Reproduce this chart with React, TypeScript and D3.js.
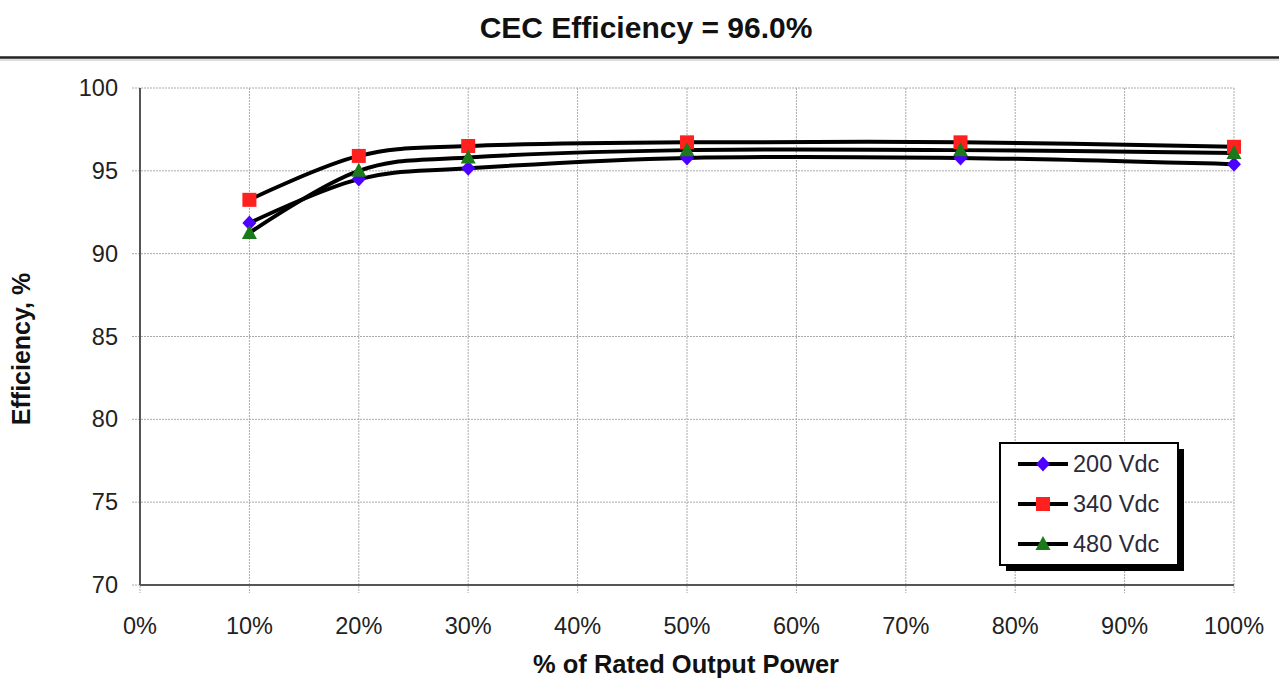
import React from "react";
import * as d3 from "d3";

const xValues = [10, 20, 30, 50, 75, 100];
const series200 = [91.85, 94.5, 95.15, 95.78, 95.78, 95.4];
const series340 = [93.25, 95.9, 96.5, 96.72, 96.72, 96.45];
const series480 = [91.25, 95.0, 95.8, 96.25, 96.25, 96.08];
const seriesNames = ["200 Vdc", "340 Vdc", "480 Vdc"];
const xTicks = [0, 10, 20, 30, 40, 50, 60, 70, 80, 90, 100];
const yTicks = [70, 75, 80, 85, 90, 95, 100];

const W = 1279;
const H = 680;
const font = "'Liberation Sans', Arial, sans-serif";

export default function App() {
  const x = d3.scaleLinear().domain([0, 100]).range([140, 1234]);
  const y = d3.scaleLinear().domain([70, 100]).range([585, 88]);
  const line = d3
    .line<[number, number]>()
    .x((d) => x(d[0]))
    .y((d) => y(d[1]))
    .curve(d3.curveCardinal.tension(0));

  const all = [
    { name: seriesNames[0], vals: series200, color: "#4d00ff", shape: "diamond" },
    { name: seriesNames[1], vals: series340, color: "#ff2020", shape: "square" },
    { name: seriesNames[2], vals: series480, color: "#1a7a1a", shape: "triangle" },
  ];

  const marker = (shape: string, cx: number, cy: number, color: string, key: string) => {
    if (shape === "square")
      return <rect key={key} x={cx - 7} y={cy - 7} width={14} height={14} fill={color} />;
    if (shape === "diamond")
      return (
        <path
          key={key}
          d={`M${cx},${cy - 7.5}L${cx + 7},${cy}L${cx},${cy + 7.5}L${cx - 7},${cy}Z`}
          fill={color}
        />
      );
    return (
      <path
        key={key}
        d={`M${cx},${cy - 8}L${cx + 7.5},${cy + 6}L${cx - 7.5},${cy + 6}Z`}
        fill={color}
      />
    );
  };

  const legX = 1000;
  const legY = 443;
  const legW = 178;
  const legH = 122;

  return (
    <svg
      width={W}
      height={H}
      style={{ position: "absolute", left: 0, top: 0, background: "#fff" }}
      fontFamily={font}
    >
      <rect x={0} y={0} width={W} height={H} fill="#fff" />
      <text x={646} y={38} textAnchor="middle" fontSize={30} fontWeight="bold" fill="#111">
        CEC Efficiency = 96.0%
      </text>
      <line x1={0} x2={W} y1={57.5} y2={57.5} stroke="#222" strokeWidth={2.5} />
      <line x1={0} x2={W} y1={60} y2={60} stroke="#bbb" strokeWidth={1} />

      {/* grid */}
      {xTicks.map((t) => (
        <line
          key={"gx" + t}
          x1={x(t)}
          x2={x(t)}
          y1={y(100)}
          y2={y(70) + 8}
          stroke="#aaa"
          strokeWidth={1}
          strokeDasharray="2,1"
        />
      ))}
      {yTicks.map((t) => (
        <line
          key={"gy" + t}
          x1={x(0) - 8}
          x2={x(100)}
          y1={y(t)}
          y2={y(t)}
          stroke="#aaa"
          strokeWidth={1}
          strokeDasharray="2,1"
        />
      ))}
      {/* axes */}
      <line x1={x(0)} x2={x(0)} y1={y(100)} y2={y(70)} stroke="#555" strokeWidth={2} />
      <line x1={x(0)} x2={x(100)} y1={y(70)} y2={y(70)} stroke="#555" strokeWidth={2} />

      {yTicks.map((t) => (
        <text
          key={"ty" + t}
          x={118}
          y={y(t) + 8}
          textAnchor="end"
          fontSize={23.5}
          fill="#222"
        >
          {t}
        </text>
      ))}
      {xTicks.map((t) => (
        <text
          key={"tx" + t}
          x={x(t)}
          y={634}
          textAnchor="middle"
          fontSize={23.5}
          fill="#222"
        >
          {t + "%"}
        </text>
      ))}
      <text
        transform={`translate(30,${349}) rotate(-90)`}
        textAnchor="middle"
        fontSize={25}
        fontWeight="bold"
        fill="#111"
      >
        Efficiency, %
      </text>
      <text x={686} y={673} textAnchor="middle" fontSize={25.5} fontWeight="bold" fill="#111">
        % of Rated Output Power
      </text>

      {/* lines */}
      {all.map((s) => (
        <path
          key={"l" + s.name}
          d={line(xValues.map((v, i) => [v, s.vals[i]] as [number, number])) || ""}
          fill="none"
          stroke="#000"
          strokeWidth={4}
        />
      ))}
      {all.map((s) =>
        xValues.map((v, i) => marker(s.shape, x(v), y(s.vals[i]), s.color, s.name + i))
      )}

      {/* legend */}
      <rect x={legX + 6} y={legY + 6} width={legW} height={legH} fill="#000" />
      <rect
        x={legX}
        y={legY}
        width={legW}
        height={legH}
        fill="#fff"
        stroke="#000"
        strokeWidth={2}
      />
      {all.map((s, i) => {
        const cy = legY + 21 + i * 40;
        return (
          <g key={"leg" + s.name}>
            <line x1={legX + 18} x2={legX + 68} y1={cy} y2={cy} stroke="#000" strokeWidth={4} />
            {marker(s.shape, legX + 43, cy, s.color, "lm" + i)}
            <text x={legX + 73} y={cy + 8} fontSize={23.5} fill="#2a2a3a">
              {s.name}
            </text>
          </g>
        );
      })}
    </svg>
  );
}
